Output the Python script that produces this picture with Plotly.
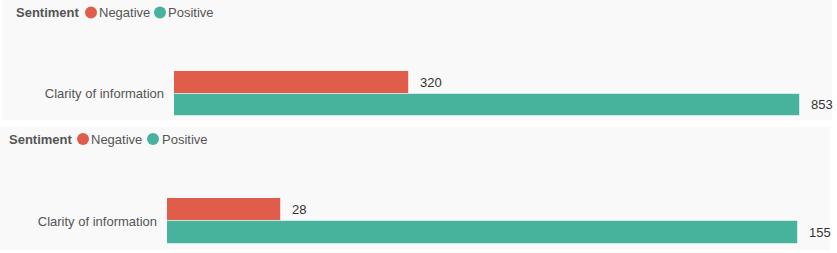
import plotly.graph_objects as go

# ---- data ----
categories = ["Clarity of information"]
series_names = ["Negative", "Positive"]
top_negative = [320]
top_positive = [853]
bottom_negative = [28]
bottom_positive = [155]
legend_title = "Sentiment"

W, H = 837, 253
RED = "#E05C4B"
GREEN = "#47B39C"
PANEL = "#F9F9F9"
TXT = "#555555"
VAL = "#333333"
FONT = "Arial, Liberation Sans, sans-serif"


def fx(px):
    return px / W


def fy(py):
    return 1 - py / H


fig = go.Figure()

panels = [
    dict(neg=top_negative, pos=top_positive, xa="x", ya="y",
         xdom=(174, 832), bar_end=800, ydom=(71, 116)),
    dict(neg=bottom_negative, pos=bottom_positive, xa="x2", ya="y2",
         xdom=(167, 830), bar_end=798, ydom=(198, 244)),
]

for i, p in enumerate(panels):
    for name, vals, col in [("Negative", p["neg"], RED), ("Positive", p["pos"], GREEN)]:
        fig.add_trace(go.Bar(
            y=categories, x=vals, orientation="h", name=name,
            marker=dict(color=col, line=dict(color="rgba(255,255,255,0.5)", width=1)),
            xaxis=p["xa"], yaxis=p["ya"], showlegend=False, hoverinfo="x+name",
        ))
        for c, v in zip(categories, vals):
            fig.add_annotation(
                x=v, y=(-0.25 if name == "Negative" else 0.25), xref=p["xa"], yref=p["ya"],
                text=str(v), showarrow=False, xanchor="left", xshift=9,
                font=dict(family=FONT, size=13, color=VAL),
            )

    vmax = max(p["neg"] + p["pos"])
    x0, x1 = p["xdom"]
    xr = vmax * (x1 - x0) / (p["bar_end"] - x0)
    suffix = "" if i == 0 else "2"
    fig.layout["xaxis" + suffix] = dict(
        domain=[fx(x0), fx(x1)], range=[0, xr], visible=False, anchor="y" + suffix,
    )
    fig.layout["yaxis" + suffix] = dict(
        domain=[fy(p["ydom"][1]), fy(p["ydom"][0])], range=[0.5, -0.5],
        anchor="x" + suffix, showgrid=False, zeroline=False, showline=False,
        ticks="", ticklabelstandoff=9,
        tickfont=dict(family=FONT, size=13, color=TXT),
    )

# panel backgrounds
shapes = [
    dict(type="rect", xref="paper", yref="paper", x0=fx(2), x1=fx(832), y0=fy(120), y1=fy(0),
         fillcolor=PANEL, line=dict(width=0), layer="below"),
    dict(type="rect", xref="paper", yref="paper", x0=fx(0), x1=fx(830), y0=fy(250), y1=fy(127),
         fillcolor=PANEL, line=dict(width=0), layer="below"),
]

# custom legends (circle markers)
legends = [
    dict(title_x=14, y=12.5, items=[(91, 99, RED, "Negative"), (160, 168, GREEN, "Positive")]),
    dict(title_x=7, y=139, items=[(83, 91, RED, "Negative"), (153, 162, GREEN, "Positive")]),
]
for lg in legends:
    fig.add_annotation(x=fx(lg["title_x"]), y=fy(lg["y"]), xref="paper", yref="paper",
                       text="<b>" + legend_title + "</b>", showarrow=False,
                       xanchor="left", yanchor="middle",
                       font=dict(family=FONT, size=13, color=TXT))
    for cx, tx, col, label in lg["items"]:
        shapes.append(dict(type="circle", xref="paper", yref="paper",
                           xsizemode="pixel", ysizemode="pixel",
                           xanchor=fx(cx), yanchor=fy(lg["y"]),
                           x0=-6, x1=6, y0=-6, y1=6,
                           fillcolor=col, line=dict(width=0)))
        fig.add_annotation(x=fx(tx), y=fy(lg["y"]), xref="paper", yref="paper",
                           text=label, showarrow=False, xanchor="left", yanchor="middle",
                           xshift=-2,
                           font=dict(family=FONT, size=13, color=TXT))

fig.update_layout(
    width=W, height=H, margin=dict(l=0, r=0, t=0, b=0),
    paper_bgcolor="white", plot_bgcolor="rgba(0,0,0,0)",
    barmode="group", bargap=0, bargroupgap=0,
    shapes=shapes, showlegend=False,
    font=dict(family=FONT, size=13, color=TXT),
)

fig.write_html("out.html", config={"displayModeBar": False})
